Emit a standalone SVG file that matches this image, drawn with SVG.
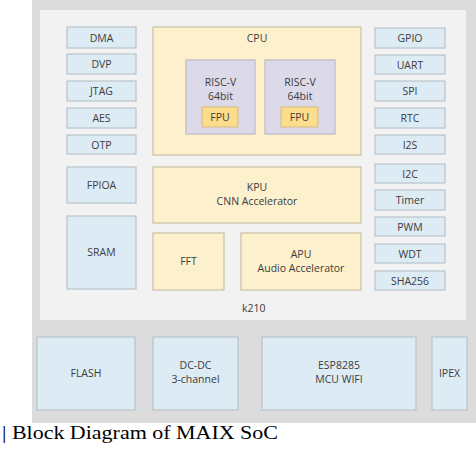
<svg xmlns="http://www.w3.org/2000/svg" width="476" height="456" viewBox="0 0 476 456">
<defs>
<style>
.b{fill:#dcebf4;stroke:#b9c3ca;stroke-width:1.2}
.y{fill:#fdf0cd;stroke:#c9c0a6;stroke-width:1.2}
.p{fill:#dcd9e9;stroke:#bdb9c8;stroke-width:1.2}
.f{fill:#fcdc8d;stroke:#d6bd7a;stroke-width:1}
text{font-family:"Open Sans","Noto Sans","DejaVu Sans",sans-serif;font-size:10.5px;fill:#3c3c3c;text-anchor:middle}
.cap{font-family:"Liberation Serif","Times New Roman",serif;font-size:19px;fill:#000;text-anchor:start}
</style>
</defs>
<rect width="476" height="456" fill="#fff"/>
<rect x="32" y="0" width="444" height="423" fill="#dcdcdc"/>
<rect x="40" y="10" width="426" height="310" fill="#f2f2f2"/>
<text x="242" y="312" style="text-anchor:start">k210</text>

<g id="dma"><rect class="b" x="67" y="27" width="69" height="21"/><text x="101.5" y="41.5">DMA</text></g>
<g id="dvp"><rect class="b" x="67" y="54" width="69" height="20"/><text x="101.5" y="68">DVP</text></g>
<g id="jtag"><rect class="b" x="67" y="81" width="69" height="20"/><text x="101.5" y="95">JTAG</text></g>
<g id="aes"><rect class="b" x="67" y="108" width="69" height="20"/><text x="101.5" y="122">AES</text></g>
<g id="otp"><rect class="b" x="67" y="135" width="69" height="19"/><text x="101.5" y="148.5">OTP</text></g>
<g id="fpioa"><rect class="b" x="67" y="167" width="69" height="36"/><text x="101.5" y="189">FPIOA</text></g>
<g id="sram"><rect class="b" x="67" y="216" width="69" height="73"/><text x="101.5" y="256">SRAM</text></g>

<g id="cpu"><rect class="y" x="153" y="27" width="208" height="128"/><text x="257" y="42">CPU</text></g>
<g id="riscv1"><rect class="p" x="186" y="60" width="69" height="74"/><text x="220.5" y="86">RISC-V</text><text x="220.5" y="100">64bit</text></g>
<g id="fpu1"><rect class="f" x="202" y="107" width="36" height="20"/><text x="220" y="121">FPU</text></g>
<g id="riscv2"><rect class="p" x="265" y="60" width="70" height="74"/><text x="300" y="86">RISC-V</text><text x="300" y="100">64bit</text></g>
<g id="fpu2"><rect class="f" x="281" y="107" width="37" height="20"/><text x="299.5" y="121">FPU</text></g>

<g id="kpu"><rect class="y" x="153" y="167" width="208" height="56"/><text x="257" y="191">KPU</text><text x="257" y="205">CNN Accelerator</text></g>
<g id="fft"><rect class="y" x="153" y="233" width="71" height="57"/><text x="188.5" y="265">FFT</text></g>
<g id="apu"><rect class="y" x="241" y="233" width="120" height="57"/><text x="301" y="258">APU</text><text x="301" y="272">Audio Accelerator</text></g>

<g id="gpio"><rect class="b" x="375" y="28" width="70" height="20"/><text x="410" y="42">GPIO</text></g>
<g id="uart"><rect class="b" x="375" y="55" width="70" height="19"/><text x="410" y="68.5">UART</text></g>
<g id="spi"><rect class="b" x="375" y="81" width="70" height="20"/><text x="410" y="95">SPI</text></g>
<g id="rtc"><rect class="b" x="375" y="108" width="70" height="20"/><text x="410" y="122">RTC</text></g>
<g id="i2s"><rect class="b" x="375" y="135" width="70" height="19"/><text x="410" y="148.5">I2S</text></g>
<g id="i2c"><rect class="b" x="375" y="164" width="70" height="19"/><text x="410" y="177.5">I2C</text></g>
<g id="timer"><rect class="b" x="375" y="190" width="70" height="20"/><text x="410" y="204">Timer</text></g>
<g id="pwm"><rect class="b" x="375" y="217" width="70" height="19"/><text x="410" y="230.5">PWM</text></g>
<g id="wdt"><rect class="b" x="375" y="244" width="70" height="19"/><text x="410" y="257.5">WDT</text></g>
<g id="sha256"><rect class="b" x="375" y="271" width="70" height="19"/><text x="410" y="284.5">SHA256</text></g>

<g id="flash"><rect class="b" x="37" y="337" width="98" height="73"/><text x="86" y="377">FLASH</text></g>
<g id="dcdc"><rect class="b" x="153" y="337" width="85" height="73"/><text x="195.5" y="369">DC-DC</text><text x="195.5" y="383">3-channel</text></g>
<g id="esp"><rect class="b" x="262" y="337" width="154" height="73"/><text x="339" y="369">ESP8285</text><text x="339" y="383">MCU WIFI</text></g>
<g id="ipex"><rect class="b" x="432" y="337" width="35" height="73"/><text x="449.5" y="377">IPEX</text></g>

<g id="connectors"></g>

<text class="cap" x="2" y="439" textLength="276" lengthAdjust="spacingAndGlyphs">| Block Diagram of MAIX SoC</text>
</svg>
